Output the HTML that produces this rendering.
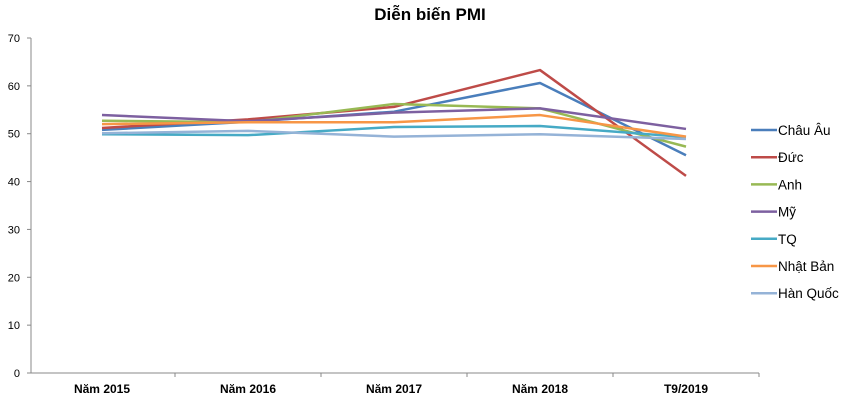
<!DOCTYPE html>
<html><head><meta charset="utf-8"><style>
body{margin:0;background:#fff;width:860px;height:406px;overflow:hidden}
svg text{font-family:"Liberation Sans",sans-serif}
</style></head><body>
<svg id="chart" width="860" height="406">
<text x="430" y="20" text-anchor="middle" font-size="17" font-weight="bold">Diễn biến PMI</text>
<g id="axes"></g><g id="series"></g><g id="legend"></g>
</svg>
<script>
const categories=["Năm 2015","Năm 2016","Năm 2017","Năm 2018","T9/2019"];
const seriesNames=["Châu Âu","Đức","Anh","Mỹ","TQ","Nhật Bản","Hàn Quốc"];
const chauAu=[50.8,52.5,54.6,60.6,45.5];
const duc=[51.2,53.0,55.6,63.3,41.2];
const anh=[52.7,52.4,56.2,55.3,47.3];
const my=[53.9,52.6,54.4,55.3,51.0];
const tq=[49.9,49.7,51.4,51.6,49.3];
const nhatBan=[52.0,52.4,52.4,53.9,49.4];
const hanQuoc=[50.1,50.6,49.4,49.9,48.9];
const yTicks=[0,10,20,30,40,50,60,70];
const colors=["#4a7ebb","#be4b48","#98b954","#7d60a0","#46aac5","#f79646","#95b3d7"];
const allSeries=[chauAu,duc,anh,my,tq,nhatBan,hanQuoc];
const NS="http://www.w3.org/2000/svg";
const x0=29,catW=146,yBase=373,yTop=38,yMax=70;
const xs=i=>x0+catW*(i+0.5);
const ys=v=>yBase-(v/yMax)*(yBase-yTop);
function mk(t,a,p){const e=document.createElementNS(NS,t);for(const k in a)e.setAttribute(k,a[k]);p.appendChild(e);return e;}
const axes=document.getElementById('axes');
const yl=mk('line',{x1:31,y1:yTop,x2:31,y2:yBase,stroke:'#888'},axes);


const xl=mk('line',{x1:31,y1:yBase,x2:x0+catW*5,y2:yBase,stroke:'#888'},axes);


yTicks.forEach(v=>{
  mk('line',{x1:27,y1:ys(v),x2:31,y2:ys(v),stroke:'#888'},axes);
  const t=mk('text',{x:20,y:ys(v)+4,'font-size':11,'text-anchor':'end'},axes);t.textContent=v;
  
  
});
categories.forEach((c,i)=>{
  mk('line',{x1:x0+catW*(i+1),y1:yBase,x2:x0+catW*(i+1),y2:yBase+4,stroke:'#888'},axes);
  const t=mk('text',{x:xs(i),y:393,'font-size':12,'font-weight':'bold','text-anchor':'middle','font-family':'Liberation Serif,serif'},axes);
  t.textContent=c;
  
  
});
const sg=document.getElementById('series'),lg=document.getElementById('legend');
allSeries.forEach((s,k)=>{
  const p=mk('polyline',{points:s.map((v,i)=>xs(i)+','+ys(v)).join(' '),fill:'none',stroke:colors[k],'stroke-width':2.5,'stroke-linejoin':'round'},sg);
  
  
  const y=130+k*27.2;
  const g=mk('g',{},lg);
  
  
  mk('line',{x1:751,y1:y,x2:777,y2:y,stroke:colors[k],'stroke-width':2.5},g);
  const t=mk('text',{x:778,y:y+5,'font-size':13.5,'font-family':'Liberation Serif,serif'},g);t.textContent=seriesNames[k];
});
</script>
</body></html>
